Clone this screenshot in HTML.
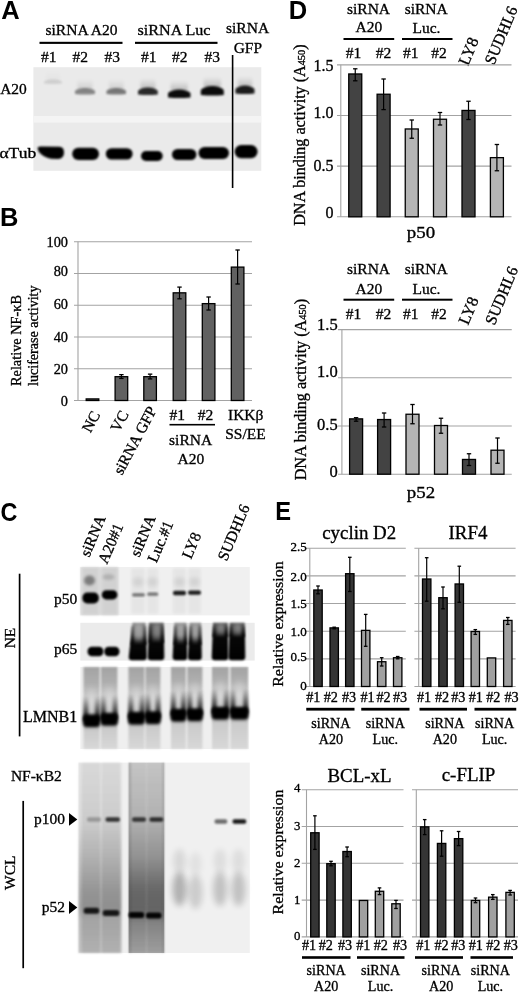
<!DOCTYPE html>
<html><head><meta charset="utf-8"><title>Figure</title>
<style>
html,body{margin:0;padding:0;background:#fff;}
body{width:520px;height:995px;overflow:hidden;}
svg{display:block;filter:blur(0.35px);}
.t{font-family:'Liberation Serif','Times New Roman',serif;fill:#000;stroke:#000;stroke-width:0.32px;}
.pl{font-family:'Liberation Sans',Arial,sans-serif;font-weight:bold;font-size:25.5px;fill:#000;}
</style></head><body>
<svg width="520" height="995" viewBox="0 0 520 995">
<defs>
<filter id="b1_50" x="-50%" y="-50%" width="200%" height="200%"><feGaussianBlur stdDeviation="1.50"/></filter>
<filter id="b1_00" x="-50%" y="-50%" width="200%" height="200%"><feGaussianBlur stdDeviation="1.00"/></filter>
<filter id="b0_90" x="-50%" y="-50%" width="200%" height="200%"><feGaussianBlur stdDeviation="0.90"/></filter>
<filter id="b0_80" x="-50%" y="-50%" width="200%" height="200%"><feGaussianBlur stdDeviation="0.80"/></filter>
<filter id="b1_80" x="-50%" y="-50%" width="200%" height="200%"><feGaussianBlur stdDeviation="1.80"/></filter>
<filter id="b2_00" x="-50%" y="-50%" width="200%" height="200%"><feGaussianBlur stdDeviation="2.00"/></filter>
<filter id="b1_10" x="-50%" y="-50%" width="200%" height="200%"><feGaussianBlur stdDeviation="1.10"/></filter>
<filter id="b2_20" x="-50%" y="-50%" width="200%" height="200%"><feGaussianBlur stdDeviation="2.20"/></filter>
<filter id="b3_00" x="-50%" y="-50%" width="200%" height="200%"><feGaussianBlur stdDeviation="3.00"/></filter>
<filter id="b1_60" x="-50%" y="-50%" width="200%" height="200%"><feGaussianBlur stdDeviation="1.60"/></filter>
<filter id="b1_40" x="-50%" y="-50%" width="200%" height="200%"><feGaussianBlur stdDeviation="1.40"/></filter>
<filter id="b1_20" x="-50%" y="-50%" width="200%" height="200%"><feGaussianBlur stdDeviation="1.20"/></filter>
<filter id="b0_60" x="-50%" y="-50%" width="200%" height="200%"><feGaussianBlur stdDeviation="0.60"/></filter>
<linearGradient id="g0" x1="0" y1="0" x2="0" y2="1"><stop offset="0" stop-color="#000" stop-opacity="0"/><stop offset="1" stop-color="#000" stop-opacity="0.03"/></linearGradient>
<linearGradient id="g1" x1="0" y1="0" x2="0" y2="1"><stop offset="0" stop-color="#000" stop-opacity="0"/><stop offset="1" stop-color="#000" stop-opacity="0.12"/></linearGradient>
<linearGradient id="g2" x1="0" y1="0" x2="0" y2="1"><stop offset="0" stop-color="#000" stop-opacity="0"/><stop offset="1" stop-color="#000" stop-opacity="0.12"/></linearGradient>
<linearGradient id="g3" x1="0" y1="0" x2="0" y2="1"><stop offset="0" stop-color="#000" stop-opacity="0"/><stop offset="1" stop-color="#000" stop-opacity="0.2"/></linearGradient>
<linearGradient id="g4" x1="0" y1="0" x2="0" y2="1"><stop offset="0" stop-color="#000" stop-opacity="0"/><stop offset="1" stop-color="#000" stop-opacity="0.22"/></linearGradient>
<linearGradient id="g5" x1="0" y1="0" x2="0" y2="1"><stop offset="0" stop-color="#000" stop-opacity="0"/><stop offset="1" stop-color="#000" stop-opacity="0.22"/></linearGradient>
<linearGradient id="g6" x1="0" y1="0" x2="0" y2="1"><stop offset="0" stop-color="#000" stop-opacity="0"/><stop offset="1" stop-color="#000" stop-opacity="0.2"/></linearGradient>
<linearGradient id="g7" x1="0" y1="0" x2="0" y2="1"><stop offset="0" stop-color="#000" stop-opacity="0.42"/><stop offset="0.33" stop-color="#000" stop-opacity="0.52"/><stop offset="0.5" stop-color="#000" stop-opacity="0.85"/><stop offset="0.59" stop-color="#000" stop-opacity="0.97"/><stop offset="1" stop-color="#000" stop-opacity="1"/></linearGradient>
<linearGradient id="g8" x1="0" y1="0" x2="0" y2="1"><stop offset="0" stop-color="#000" stop-opacity="0.2"/><stop offset="1" stop-color="#000" stop-opacity="0.8"/></linearGradient>
<linearGradient id="g9" x1="0" y1="0" x2="0" y2="1"><stop offset="0" stop-color="#000" stop-opacity="0.2"/><stop offset="1" stop-color="#000" stop-opacity="0.8"/></linearGradient>
<linearGradient id="g10" x1="0" y1="0" x2="0" y2="1"><stop offset="0" stop-color="#000" stop-opacity="0.6"/><stop offset="0.3" stop-color="#000" stop-opacity="0.7"/><stop offset="0.46" stop-color="#000" stop-opacity="0.85"/><stop offset="0.54" stop-color="#000" stop-opacity="0.97"/><stop offset="1" stop-color="#000" stop-opacity="1"/></linearGradient>
<linearGradient id="g11" x1="0" y1="0" x2="0" y2="1"><stop offset="0" stop-color="#000" stop-opacity="0.2"/><stop offset="1" stop-color="#000" stop-opacity="0.8"/></linearGradient>
<linearGradient id="g12" x1="0" y1="0" x2="0" y2="1"><stop offset="0" stop-color="#000" stop-opacity="0.2"/><stop offset="1" stop-color="#000" stop-opacity="0.8"/></linearGradient>
<linearGradient id="g13" x1="0" y1="0" x2="0" y2="1"><stop offset="0" stop-color="#000" stop-opacity="0.4"/><stop offset="0.33" stop-color="#000" stop-opacity="0.5"/><stop offset="0.5" stop-color="#000" stop-opacity="0.85"/><stop offset="0.59" stop-color="#000" stop-opacity="0.97"/><stop offset="1" stop-color="#000" stop-opacity="1"/></linearGradient>
<linearGradient id="g14" x1="0" y1="0" x2="0" y2="1"><stop offset="0" stop-color="#000" stop-opacity="0.2"/><stop offset="1" stop-color="#000" stop-opacity="0.8"/></linearGradient>
<linearGradient id="g15" x1="0" y1="0" x2="0" y2="1"><stop offset="0" stop-color="#000" stop-opacity="0.2"/><stop offset="1" stop-color="#000" stop-opacity="0.8"/></linearGradient>
<linearGradient id="g16" x1="0" y1="0" x2="0" y2="1"><stop offset="0" stop-color="#000" stop-opacity="0.4"/><stop offset="0.33" stop-color="#000" stop-opacity="0.5"/><stop offset="0.5" stop-color="#000" stop-opacity="0.85"/><stop offset="0.59" stop-color="#000" stop-opacity="0.97"/><stop offset="1" stop-color="#000" stop-opacity="1"/></linearGradient>
<linearGradient id="g17" x1="0" y1="0" x2="0" y2="1"><stop offset="0" stop-color="#000" stop-opacity="0.2"/><stop offset="1" stop-color="#000" stop-opacity="0.8"/></linearGradient>
<linearGradient id="g18" x1="0" y1="0" x2="0" y2="1"><stop offset="0" stop-color="#000" stop-opacity="0.2"/><stop offset="1" stop-color="#000" stop-opacity="0.8"/></linearGradient>
<linearGradient id="g19" x1="0" y1="0" x2="0" y2="1"><stop offset="0" stop-color="#000" stop-opacity="0.62"/><stop offset="0.21" stop-color="#000" stop-opacity="0.72"/><stop offset="0.32" stop-color="#000" stop-opacity="0.85"/><stop offset="0.38" stop-color="#000" stop-opacity="0.97"/><stop offset="1" stop-color="#000" stop-opacity="1"/></linearGradient>
<linearGradient id="g20" x1="0" y1="0" x2="0" y2="1"><stop offset="0" stop-color="#000" stop-opacity="0.2"/><stop offset="1" stop-color="#000" stop-opacity="0.8"/></linearGradient>
<linearGradient id="g21" x1="0" y1="0" x2="0" y2="1"><stop offset="0" stop-color="#000" stop-opacity="0.2"/><stop offset="1" stop-color="#000" stop-opacity="0.8"/></linearGradient>
<linearGradient id="g22" x1="0" y1="0" x2="0" y2="1"><stop offset="0" stop-color="#000" stop-opacity="0.62"/><stop offset="0.21" stop-color="#000" stop-opacity="0.72"/><stop offset="0.32" stop-color="#000" stop-opacity="0.85"/><stop offset="0.38" stop-color="#000" stop-opacity="0.97"/><stop offset="1" stop-color="#000" stop-opacity="1"/></linearGradient>
<linearGradient id="g23" x1="0" y1="0" x2="0" y2="1"><stop offset="0" stop-color="#000" stop-opacity="0.2"/><stop offset="1" stop-color="#000" stop-opacity="0.8"/></linearGradient>
<linearGradient id="g24" x1="0" y1="0" x2="0" y2="1"><stop offset="0" stop-color="#000" stop-opacity="0.2"/><stop offset="1" stop-color="#000" stop-opacity="0.8"/></linearGradient>
<linearGradient id="g25" x1="0" y1="0" x2="0" y2="1"><stop offset="0" stop-color="#000" stop-opacity="0.32"/><stop offset="0.2" stop-color="#000" stop-opacity="0.27"/><stop offset="0.4" stop-color="#000" stop-opacity="0.16"/><stop offset="0.53" stop-color="#000" stop-opacity="0.2"/><stop offset="0.66" stop-color="#000" stop-opacity="0.4"/><stop offset="0.78" stop-color="#000" stop-opacity="0.15"/><stop offset="1" stop-color="#000" stop-opacity="0.1"/></linearGradient>
<linearGradient id="g26" x1="0" y1="0" x2="0" y2="1"><stop offset="0" stop-color="#000" stop-opacity="0.05"/><stop offset="0.5" stop-color="#000" stop-opacity="0.5"/><stop offset="1" stop-color="#000" stop-opacity="1"/></linearGradient>
<linearGradient id="g27" x1="0" y1="0" x2="0" y2="1"><stop offset="0" stop-color="#000" stop-opacity="0.05"/><stop offset="0.5" stop-color="#000" stop-opacity="0.5"/><stop offset="1" stop-color="#000" stop-opacity="1"/></linearGradient>
<linearGradient id="g28" x1="0" y1="0" x2="0" y2="1"><stop offset="0" stop-color="#000" stop-opacity="0.32"/><stop offset="0.19" stop-color="#000" stop-opacity="0.27"/><stop offset="0.38" stop-color="#000" stop-opacity="0.16"/><stop offset="0.51" stop-color="#000" stop-opacity="0.2"/><stop offset="0.64" stop-color="#000" stop-opacity="0.4"/><stop offset="0.76" stop-color="#000" stop-opacity="0.15"/><stop offset="1" stop-color="#000" stop-opacity="0.1"/></linearGradient>
<linearGradient id="g29" x1="0" y1="0" x2="0" y2="1"><stop offset="0" stop-color="#000" stop-opacity="0.05"/><stop offset="0.5" stop-color="#000" stop-opacity="0.5"/><stop offset="1" stop-color="#000" stop-opacity="1"/></linearGradient>
<linearGradient id="g30" x1="0" y1="0" x2="0" y2="1"><stop offset="0" stop-color="#000" stop-opacity="0.05"/><stop offset="0.5" stop-color="#000" stop-opacity="0.5"/><stop offset="1" stop-color="#000" stop-opacity="1"/></linearGradient>
<linearGradient id="g31" x1="0" y1="0" x2="0" y2="1"><stop offset="0" stop-color="#000" stop-opacity="0.32"/><stop offset="0.19" stop-color="#000" stop-opacity="0.27"/><stop offset="0.38" stop-color="#000" stop-opacity="0.16"/><stop offset="0.5" stop-color="#000" stop-opacity="0.2"/><stop offset="0.63" stop-color="#000" stop-opacity="0.4"/><stop offset="0.75" stop-color="#000" stop-opacity="0.15"/><stop offset="1" stop-color="#000" stop-opacity="0.1"/></linearGradient>
<linearGradient id="g32" x1="0" y1="0" x2="0" y2="1"><stop offset="0" stop-color="#000" stop-opacity="0.05"/><stop offset="0.5" stop-color="#000" stop-opacity="0.5"/><stop offset="1" stop-color="#000" stop-opacity="1"/></linearGradient>
<linearGradient id="g33" x1="0" y1="0" x2="0" y2="1"><stop offset="0" stop-color="#000" stop-opacity="0.05"/><stop offset="0.5" stop-color="#000" stop-opacity="0.5"/><stop offset="1" stop-color="#000" stop-opacity="1"/></linearGradient>
<linearGradient id="g34" x1="0" y1="0" x2="0" y2="1"><stop offset="0" stop-color="#000" stop-opacity="0.32"/><stop offset="0.19" stop-color="#000" stop-opacity="0.27"/><stop offset="0.37" stop-color="#000" stop-opacity="0.16"/><stop offset="0.5" stop-color="#000" stop-opacity="0.2"/><stop offset="0.62" stop-color="#000" stop-opacity="0.4"/><stop offset="0.74" stop-color="#000" stop-opacity="0.15"/><stop offset="1" stop-color="#000" stop-opacity="0.1"/></linearGradient>
<linearGradient id="g35" x1="0" y1="0" x2="0" y2="1"><stop offset="0" stop-color="#000" stop-opacity="0.05"/><stop offset="0.5" stop-color="#000" stop-opacity="0.5"/><stop offset="1" stop-color="#000" stop-opacity="1"/></linearGradient>
<linearGradient id="g36" x1="0" y1="0" x2="0" y2="1"><stop offset="0" stop-color="#000" stop-opacity="0.05"/><stop offset="0.5" stop-color="#000" stop-opacity="0.5"/><stop offset="1" stop-color="#000" stop-opacity="1"/></linearGradient>
<linearGradient id="g37" x1="0" y1="0" x2="0" y2="1"><stop offset="0" stop-color="#000" stop-opacity="0.32"/><stop offset="0.18" stop-color="#000" stop-opacity="0.27"/><stop offset="0.35" stop-color="#000" stop-opacity="0.16"/><stop offset="0.47" stop-color="#000" stop-opacity="0.2"/><stop offset="0.59" stop-color="#000" stop-opacity="0.4"/><stop offset="0.71" stop-color="#000" stop-opacity="0.15"/><stop offset="1" stop-color="#000" stop-opacity="0.1"/></linearGradient>
<linearGradient id="g38" x1="0" y1="0" x2="0" y2="1"><stop offset="0" stop-color="#000" stop-opacity="0.05"/><stop offset="0.5" stop-color="#000" stop-opacity="0.5"/><stop offset="1" stop-color="#000" stop-opacity="1"/></linearGradient>
<linearGradient id="g39" x1="0" y1="0" x2="0" y2="1"><stop offset="0" stop-color="#000" stop-opacity="0.05"/><stop offset="0.5" stop-color="#000" stop-opacity="0.5"/><stop offset="1" stop-color="#000" stop-opacity="1"/></linearGradient>
<linearGradient id="g40" x1="0" y1="0" x2="0" y2="1"><stop offset="0" stop-color="#000" stop-opacity="0.32"/><stop offset="0.18" stop-color="#000" stop-opacity="0.27"/><stop offset="0.35" stop-color="#000" stop-opacity="0.16"/><stop offset="0.47" stop-color="#000" stop-opacity="0.2"/><stop offset="0.59" stop-color="#000" stop-opacity="0.4"/><stop offset="0.71" stop-color="#000" stop-opacity="0.15"/><stop offset="1" stop-color="#000" stop-opacity="0.1"/></linearGradient>
<linearGradient id="g41" x1="0" y1="0" x2="0" y2="1"><stop offset="0" stop-color="#000" stop-opacity="0.05"/><stop offset="0.5" stop-color="#000" stop-opacity="0.5"/><stop offset="1" stop-color="#000" stop-opacity="1"/></linearGradient>
<linearGradient id="g42" x1="0" y1="0" x2="0" y2="1"><stop offset="0" stop-color="#000" stop-opacity="0.05"/><stop offset="0.5" stop-color="#000" stop-opacity="0.5"/><stop offset="1" stop-color="#000" stop-opacity="1"/></linearGradient>
<linearGradient id="g43" x1="0" y1="0" x2="0" y2="1"><stop offset="0" stop-color="#000" stop-opacity="0.32"/><stop offset="0.17" stop-color="#000" stop-opacity="0.27"/><stop offset="0.34" stop-color="#000" stop-opacity="0.16"/><stop offset="0.45" stop-color="#000" stop-opacity="0.2"/><stop offset="0.57" stop-color="#000" stop-opacity="0.4"/><stop offset="0.69" stop-color="#000" stop-opacity="0.15"/><stop offset="1" stop-color="#000" stop-opacity="0.1"/></linearGradient>
<linearGradient id="g44" x1="0" y1="0" x2="0" y2="1"><stop offset="0" stop-color="#000" stop-opacity="0.05"/><stop offset="0.5" stop-color="#000" stop-opacity="0.5"/><stop offset="1" stop-color="#000" stop-opacity="1"/></linearGradient>
<linearGradient id="g45" x1="0" y1="0" x2="0" y2="1"><stop offset="0" stop-color="#000" stop-opacity="0.05"/><stop offset="0.5" stop-color="#000" stop-opacity="0.5"/><stop offset="1" stop-color="#000" stop-opacity="1"/></linearGradient>
<linearGradient id="g46" x1="0" y1="0" x2="0" y2="1"><stop offset="0" stop-color="#000" stop-opacity="0.32"/><stop offset="0.17" stop-color="#000" stop-opacity="0.27"/><stop offset="0.34" stop-color="#000" stop-opacity="0.16"/><stop offset="0.45" stop-color="#000" stop-opacity="0.2"/><stop offset="0.57" stop-color="#000" stop-opacity="0.4"/><stop offset="0.69" stop-color="#000" stop-opacity="0.15"/><stop offset="1" stop-color="#000" stop-opacity="0.1"/></linearGradient>
<linearGradient id="g47" x1="0" y1="0" x2="0" y2="1"><stop offset="0" stop-color="#000" stop-opacity="0.05"/><stop offset="0.5" stop-color="#000" stop-opacity="0.5"/><stop offset="1" stop-color="#000" stop-opacity="1"/></linearGradient>
<linearGradient id="g48" x1="0" y1="0" x2="0" y2="1"><stop offset="0" stop-color="#000" stop-opacity="0.05"/><stop offset="0.5" stop-color="#000" stop-opacity="0.5"/><stop offset="1" stop-color="#000" stop-opacity="1"/></linearGradient>
<linearGradient id="g49" x1="0" y1="0" x2="0" y2="1"><stop offset="0" stop-color="#000" stop-opacity="0.06"/><stop offset="0.3" stop-color="#000" stop-opacity="0.09"/><stop offset="0.5" stop-color="#000" stop-opacity="0.2"/><stop offset="0.68" stop-color="#000" stop-opacity="0.3"/><stop offset="0.76" stop-color="#000" stop-opacity="0.33"/><stop offset="0.82" stop-color="#000" stop-opacity="0.24"/><stop offset="1" stop-color="#000" stop-opacity="0.2"/></linearGradient>
<linearGradient id="g50" x1="0" y1="0" x2="0" y2="1"><stop offset="0" stop-color="#000" stop-opacity="0.04"/><stop offset="0.5" stop-color="#000" stop-opacity="0.08"/><stop offset="0.7" stop-color="#000" stop-opacity="0.12"/><stop offset="1" stop-color="#000" stop-opacity="0.08"/></linearGradient>
<linearGradient id="g51" x1="0" y1="0" x2="0" y2="1"><stop offset="0" stop-color="#000" stop-opacity="0.04"/><stop offset="0.5" stop-color="#000" stop-opacity="0.08"/><stop offset="0.7" stop-color="#000" stop-opacity="0.12"/><stop offset="1" stop-color="#000" stop-opacity="0.08"/></linearGradient>
<linearGradient id="g52" x1="0" y1="0" x2="0" y2="1"><stop offset="0" stop-color="#000" stop-opacity="0.14"/><stop offset="0.3" stop-color="#000" stop-opacity="0.2"/><stop offset="0.5" stop-color="#000" stop-opacity="0.33"/><stop offset="0.65" stop-color="#000" stop-opacity="0.47"/><stop offset="0.77" stop-color="#000" stop-opacity="0.5"/><stop offset="0.85" stop-color="#000" stop-opacity="0.36"/><stop offset="1" stop-color="#000" stop-opacity="0.27"/></linearGradient>
<linearGradient id="g53" x1="0" y1="0" x2="0" y2="1"><stop offset="0" stop-color="#000" stop-opacity="0.05"/><stop offset="0.5" stop-color="#000" stop-opacity="0.1"/><stop offset="0.7" stop-color="#000" stop-opacity="0.18"/><stop offset="1" stop-color="#000" stop-opacity="0.1"/></linearGradient>
<linearGradient id="g54" x1="0" y1="0" x2="0" y2="1"><stop offset="0" stop-color="#000" stop-opacity="0.05"/><stop offset="0.5" stop-color="#000" stop-opacity="0.1"/><stop offset="0.7" stop-color="#000" stop-opacity="0.18"/><stop offset="1" stop-color="#000" stop-opacity="0.1"/></linearGradient>
</defs>
<rect width="520" height="995" fill="#fff"/>
<text class="pl" x="1.2" y="18.8">A</text>
<text class="t" x="45.5" y="35" font-size="15.5" text-anchor="start" textLength="72" lengthAdjust="spacingAndGlyphs">siRNA A20</text>
<rect x="39.5" y="41.8" width="83" height="2.1" fill="#000"/>
<text class="t" x="41" y="62.3" font-size="15.5" text-anchor="start">#1</text>
<text class="t" x="72.5" y="62.3" font-size="15.5" text-anchor="start">#2</text>
<text class="t" x="104.5" y="62.3" font-size="15.5" text-anchor="start">#3</text>
<text class="t" x="137.5" y="35" font-size="15.5" text-anchor="start" textLength="73" lengthAdjust="spacingAndGlyphs">siRNA Luc</text>
<rect x="135" y="41.8" width="82.5" height="2.1" fill="#000"/>
<text class="t" x="141" y="62.3" font-size="15.5" text-anchor="start">#1</text>
<text class="t" x="172" y="62.3" font-size="15.5" text-anchor="start">#2</text>
<text class="t" x="204.5" y="62.3" font-size="15.5" text-anchor="start">#3</text>
<text class="t" x="226" y="33.2" font-size="15.5" text-anchor="start" textLength="43.2" lengthAdjust="spacingAndGlyphs">siRNA</text>
<text class="t" x="233.7" y="52.8" font-size="15.5" text-anchor="start" textLength="28.3" lengthAdjust="spacingAndGlyphs">GFP</text>
<rect x="33.4" y="67.2" width="227.9" height="103.6" fill="#eaeaea"/>
<rect x="33.4" y="116" width="227.9" height="6.6" fill="#f4f4f4"/>
<rect x="46.16" y="70.5" width="13.68" height="11" rx="3" fill="url(#g0)" filter="url(#b1_50)"/>
<path d="M44 83.5 L44 81.3 Q47.24 79.5 53 79.5 Q58.76 79.5 62 81.3 L62 83.5 Q53 84.5 44 83.5 Z" fill="#000" opacity="0.1" filter="url(#b1_00)"/>
<rect x="77.4" y="79" width="15.2" height="11" rx="3" fill="url(#g1)" filter="url(#b1_50)"/>
<path d="M75 94 L75 90.7 Q78.6 88 85 88 Q91.4 88 95 90.7 L95 94 Q85 95 75 94 Z" fill="#000" opacity="0.42" filter="url(#b1_00)"/>
<rect x="108.84" y="79" width="14.82" height="11" rx="3" fill="url(#g2)" filter="url(#b1_50)"/>
<path d="M106.5 94 L106.5 90.7 Q110.01 88 116.25 88 Q122.49 88 126 90.7 L126 94 Q116.25 95 106.5 94 Z" fill="#000" opacity="0.48" filter="url(#b1_00)"/>
<rect x="140.38" y="78.5" width="15.05" height="11" rx="3" fill="url(#g3)" filter="url(#b1_50)"/>
<path d="M138 94.5 L138 90.65 Q141.56 87.5 147.9 87.5 Q154.24 87.5 157.8 90.65 L157.8 94.5 Q147.9 95.5 138 94.5 Z" fill="#000" opacity="0.82" filter="url(#b1_00)"/>
<rect x="170.7" y="80.5" width="17.1" height="11" rx="3" fill="url(#g4)" filter="url(#b1_50)"/>
<path d="M168 97.5 L168 93.1 Q172.05 89.5 179.25 89.5 Q186.45 89.5 190.5 93.1 L190.5 97.5 Q179.25 98.5 168 97.5 Z" fill="#000" opacity="0.95" filter="url(#b1_00)"/>
<rect x="203.56" y="77" width="17.48" height="11" rx="3" fill="url(#g5)" filter="url(#b1_50)"/>
<path d="M200.8 95 L200.8 90.05 Q204.94 86 212.3 86 Q219.66 86 223.8 90.05 L223.8 95 Q212.3 96 200.8 95 Z" fill="#000" opacity="0.95" filter="url(#b1_00)"/>
<rect x="237.69" y="76.5" width="14.52" height="11" rx="3" fill="url(#g6)" filter="url(#b1_50)"/>
<path d="M235.4 93.5 L235.4 89.1 Q238.84 85.5 244.95 85.5 Q251.06 85.5 254.5 89.1 L254.5 93.5 Q244.95 94.5 235.4 93.5 Z" fill="#000" opacity="0.88" filter="url(#b1_00)"/>
<path d="M37.6 148.2 Q37.6 146.4 40.5 146.4 L59.5 146.8 Q64 147 64 152.6 Q64 159 58 159 L51 158.8 Q43 157.5 38.6 151.5 Z" fill="#000" opacity="1" filter="url(#b0_90)"/>
<rect x="72.2" y="147.8" width="26.8" height="12.2" rx="6.1" fill="#000" opacity="1" filter="url(#b0_90)"/>
<rect x="105.8" y="148.2" width="26.8" height="11.4" rx="5.7" fill="#000" opacity="1" filter="url(#b0_90)"/>
<rect x="141" y="151" width="21.7" height="10" rx="5" fill="#000" opacity="1" filter="url(#b0_90)"/>
<rect x="172" y="149" width="24.4" height="11" rx="5.5" fill="#000" opacity="1" filter="url(#b0_90)"/>
<rect x="198.5" y="147" width="30.5" height="12" rx="6" fill="#000" opacity="1" filter="url(#b0_90)"/>
<rect x="234.6" y="145" width="23" height="13.2" rx="6.6" fill="#000" opacity="1" filter="url(#b0_90)"/>
<text class="t" x="0.2" y="94" font-size="15.5" text-anchor="start" textLength="26.6" lengthAdjust="spacingAndGlyphs">A20</text>
<text class="t" x="-0.6" y="158.4" font-size="15.5" text-anchor="start" textLength="36.8" lengthAdjust="spacingAndGlyphs">&#945;Tub</text>
<line x1="232.6" y1="55" x2="232.6" y2="188" stroke="#000" stroke-width="1.6"/>
<text class="pl" x="-0.1" y="225.8">B</text>
<line x1="74" y1="400.5" x2="252" y2="400.5" stroke="#a3a3a3" stroke-width="1.1"/>
<line x1="74" y1="368.74" x2="252" y2="368.74" stroke="#a3a3a3" stroke-width="1.1"/>
<line x1="74" y1="336.98" x2="252" y2="336.98" stroke="#a3a3a3" stroke-width="1.1"/>
<line x1="74" y1="305.22" x2="252" y2="305.22" stroke="#a3a3a3" stroke-width="1.1"/>
<line x1="74" y1="273.46" x2="252" y2="273.46" stroke="#a3a3a3" stroke-width="1.1"/>
<line x1="74" y1="241.7" x2="252" y2="241.7" stroke="#a3a3a3" stroke-width="1.1"/>
<line x1="78" y1="241.7" x2="78" y2="400.5" stroke="#a3a3a3" stroke-width="1.1"/>
<rect x="86.2" y="398.91" width="12.6" height="1.59" fill="#616161" stroke="#000" stroke-width="1.3"/>
<rect x="115.1" y="376.68" width="12.6" height="23.82" fill="#616161" stroke="#000" stroke-width="1.3"/>
<line x1="121.4" y1="374.62" x2="121.4" y2="378.43" stroke="#000" stroke-width="1.2"/>
<line x1="119.2" y1="374.62" x2="123.6" y2="374.62" stroke="#000" stroke-width="1.3"/>
<line x1="119.2" y1="378.43" x2="123.6" y2="378.43" stroke="#000" stroke-width="1.3"/>
<rect x="143.8" y="376.68" width="12.6" height="23.82" fill="#616161" stroke="#000" stroke-width="1.3"/>
<line x1="150.1" y1="374.14" x2="150.1" y2="378.9" stroke="#000" stroke-width="1.2"/>
<line x1="147.9" y1="374.14" x2="152.3" y2="374.14" stroke="#000" stroke-width="1.3"/>
<line x1="147.9" y1="378.9" x2="152.3" y2="378.9" stroke="#000" stroke-width="1.3"/>
<rect x="173.2" y="292.83" width="12.6" height="107.67" fill="#616161" stroke="#000" stroke-width="1.3"/>
<line x1="179.5" y1="287.1" x2="179.5" y2="298.8" stroke="#000" stroke-width="1.2"/>
<line x1="177.3" y1="287.1" x2="181.7" y2="287.1" stroke="#000" stroke-width="1.3"/>
<line x1="177.3" y1="298.8" x2="181.7" y2="298.8" stroke="#000" stroke-width="1.3"/>
<rect x="202.3" y="303.63" width="12.6" height="96.87" fill="#616161" stroke="#000" stroke-width="1.3"/>
<line x1="208.6" y1="297" x2="208.6" y2="310" stroke="#000" stroke-width="1.2"/>
<line x1="206.4" y1="297" x2="210.8" y2="297" stroke="#000" stroke-width="1.3"/>
<line x1="206.4" y1="310" x2="210.8" y2="310" stroke="#000" stroke-width="1.3"/>
<rect x="231.3" y="267.11" width="12.6" height="133.39" fill="#616161" stroke="#000" stroke-width="1.3"/>
<line x1="237.6" y1="250" x2="237.6" y2="284" stroke="#000" stroke-width="1.2"/>
<line x1="235.4" y1="250" x2="239.8" y2="250" stroke="#000" stroke-width="1.3"/>
<line x1="235.4" y1="284" x2="239.8" y2="284" stroke="#000" stroke-width="1.3"/>
<text class="t" x="68" y="405.6" font-size="14.3" text-anchor="end">0</text>
<text class="t" x="68" y="374.3" font-size="14.3" text-anchor="end">20</text>
<text class="t" x="68" y="342.3" font-size="14.3" text-anchor="end">40</text>
<text class="t" x="68" y="309" font-size="14.3" text-anchor="end">60</text>
<text class="t" x="68" y="275.6" font-size="14.3" text-anchor="end">80</text>
<text class="t" x="68" y="247" font-size="14.3" text-anchor="end">100</text>
<text class="t" transform="translate(21 386) rotate(-90)" x="0" y="0" font-size="14.3" text-anchor="start">Relative NF-&#954;B</text>
<text class="t" transform="translate(38 386) rotate(-90)" x="0" y="0" font-size="14.1" text-anchor="start">luciferase activity</text>
<text class="t" transform="translate(100.5 414.5) rotate(-62)" x="0" y="0" font-size="15.5" text-anchor="end">NC</text>
<text class="t" transform="translate(129 414) rotate(-62)" x="0" y="0" font-size="15.5" text-anchor="end">VC</text>
<text class="t" transform="translate(157 410) rotate(-62)" x="0" y="0" font-size="15.5" text-anchor="end">siRNA GFP</text>
<text class="t" x="169.5" y="420" font-size="15.5" text-anchor="start">#1</text>
<text class="t" x="197.7" y="420" font-size="15.5" text-anchor="start">#2</text>
<rect x="169.5" y="423.9" width="45.5" height="1.6" fill="#000"/>
<text class="t" x="190.6" y="444.7" font-size="15.5" text-anchor="middle">siRNA</text>
<text class="t" x="190.8" y="463.8" font-size="15.5" text-anchor="middle">A20</text>
<text class="t" x="245.7" y="420" font-size="15.5" text-anchor="middle">IKK&#946;</text>
<text class="t" x="245.5" y="439.4" font-size="15.5" text-anchor="middle">SS/EE</text>
<text class="pl" x="0.5" y="520.5" textLength="16.9" lengthAdjust="spacingAndGlyphs">C</text>
<text class="t" transform="translate(106 518) rotate(-67)" x="0" y="0" font-size="15.5" text-anchor="end">siRNA</text>
<text class="t" transform="translate(123.5 526) rotate(-67)" x="0" y="0" font-size="15.5" text-anchor="end">A20#1</text>
<text class="t" transform="translate(156 518) rotate(-67)" x="0" y="0" font-size="15.5" text-anchor="end">siRNA</text>
<text class="t" transform="translate(173.5 523.5) rotate(-67)" x="0" y="0" font-size="15.5" text-anchor="end">Luc.#1</text>
<text class="t" transform="translate(201.5 535) rotate(-67)" x="0" y="0" font-size="15.5" text-anchor="end">LY8</text>
<text class="t" transform="translate(250 507) rotate(-67)" x="0" y="0" font-size="15.5" text-anchor="end">SUDHL6</text>
<line x1="19.6" y1="573.7" x2="19.6" y2="736.4" stroke="#000" stroke-width="1.7"/>
<text class="t" transform="translate(14.8 638) rotate(-90)" x="0" y="0" font-size="15.5" text-anchor="middle">NE</text>
<text class="t" x="77.3" y="603.8" font-size="15.5" text-anchor="end">p50</text>
<text class="t" x="77.3" y="654" font-size="15.5" text-anchor="end">p65</text>
<text class="t" x="77.2" y="722.3" font-size="16" text-anchor="end">LMNB1</text>
<text class="t" x="10.9" y="781" font-size="15.5" text-anchor="start">NF-&#954;B2</text>
<line x1="23.2" y1="800.9" x2="23.2" y2="968.2" stroke="#000" stroke-width="1.7"/>
<text class="t" transform="translate(15 872.7) rotate(-90)" x="0" y="0" font-size="15.5" text-anchor="middle">WCL</text>
<text class="t" x="65.1" y="823.5" font-size="15.5" text-anchor="end">p100</text>
<text class="t" x="65.1" y="911.7" font-size="15.5" text-anchor="end">p52</text>
<path d="M69 812.9 L77.3 819.4 L69 825.8 Z" fill="#000"/>
<path d="M69 901 L77.3 907.5 L69 914 Z" fill="#000"/>
<rect x="80.2" y="567" width="169.6" height="48.4" fill="#f0f0f0"/>
<rect x="80.2" y="567" width="38.3" height="48.4" rx="0" fill="#000" opacity="0.07" filter="url(#b0_80)"/>
<rect x="82" y="567" width="17" height="48.4" rx="1" fill="#000" opacity="0.05" filter="url(#b1_50)"/>
<rect x="101.5" y="567" width="16.5" height="48.4" rx="1" fill="#000" opacity="0.05" filter="url(#b1_50)"/>
<rect x="131" y="568" width="14" height="46" rx="2" fill="#000" opacity="0.04" filter="url(#b1_50)"/>
<rect x="147" y="568" width="11.5" height="46" rx="2" fill="#000" opacity="0.04" filter="url(#b1_50)"/>
<rect x="172.5" y="568" width="13.5" height="46" rx="2" fill="#000" opacity="0.04" filter="url(#b1_50)"/>
<rect x="188" y="568" width="13" height="46" rx="2" fill="#000" opacity="0.04" filter="url(#b1_50)"/>
<ellipse cx="89.5" cy="580.5" rx="5.5" ry="5" fill="#000" opacity="0.4" filter="url(#b1_80)"/>
<ellipse cx="108.5" cy="577" rx="6" ry="3" fill="#000" opacity="0.15" filter="url(#b1_80)"/>
<ellipse cx="138" cy="582" rx="5.5" ry="4.5" fill="#000" opacity="0.08" filter="url(#b2_00)"/>
<ellipse cx="152.5" cy="582" rx="5.5" ry="4.5" fill="#000" opacity="0.08" filter="url(#b2_00)"/>
<ellipse cx="179.5" cy="582" rx="5.5" ry="4.5" fill="#000" opacity="0.08" filter="url(#b2_00)"/>
<ellipse cx="194.5" cy="582" rx="5.5" ry="4.5" fill="#000" opacity="0.08" filter="url(#b2_00)"/>
<rect x="82.4" y="592.6" width="16.4" height="10.8" rx="5" fill="#000" opacity="1" filter="url(#b1_00)"/>
<rect x="101.8" y="590.2" width="15.6" height="9.2" rx="4.5" fill="#000" opacity="1" filter="url(#b1_00)"/>
<rect x="132" y="593.2" width="13" height="3.2" rx="1.6" fill="#000" opacity="0.5" filter="url(#b0_90)"/>
<rect x="147.2" y="592.6" width="11" height="3.2" rx="1.6" fill="#000" opacity="0.5" filter="url(#b0_90)"/>
<rect x="173" y="590.8" width="13" height="4.4" rx="2" fill="#000" opacity="0.88" filter="url(#b0_80)"/>
<rect x="188" y="590.4" width="13" height="4.4" rx="2" fill="#000" opacity="0.88" filter="url(#b0_80)"/>
<rect x="80.3" y="622.8" width="174.4" height="37.8" fill="#ebebeb"/>
<rect x="87.5" y="646.8" width="16" height="9.5" rx="4.5" fill="#000" opacity="1" filter="url(#b1_10)"/>
<rect x="104.2" y="646.8" width="15.3" height="9.5" rx="4.5" fill="#000" opacity="1" filter="url(#b1_10)"/>
<path d="M132.5 622.8 L145.45 622.8 L146.5 641 L146.8 657 Q146.8 660.3 143.5 660.3 L132 660.3 Q128.7 660.3 128.7 657 Z" fill="url(#g7)" filter="url(#b1_10)"/>
<ellipse cx="138.62" cy="632.12" rx="4.2" ry="9.32" fill="#fff" opacity="0.3" filter="url(#b2_20)"/>
<rect x="130.75" y="626" width="3.2" height="19" rx="0" fill="url(#g8)" filter="url(#b1_00)"/>
<rect x="143.3" y="626" width="3.2" height="19" rx="0" fill="url(#g9)" filter="url(#b1_00)"/>
<path d="M149 622.8 L163.7 622.8 L164 639 L164.3 657 Q164.3 660.3 161 660.3 L151 660.3 Q147.7 660.3 147.7 657 Z" fill="url(#g10)" filter="url(#b1_10)"/>
<ellipse cx="156.8" cy="631.28" rx="3.84" ry="8.48" fill="#fff" opacity="0.3" filter="url(#b2_20)"/>
<rect x="148.5" y="626" width="3.2" height="17" rx="0" fill="url(#g11)" filter="url(#b1_00)"/>
<rect x="160.8" y="626" width="3.2" height="17" rx="0" fill="url(#g12)" filter="url(#b1_00)"/>
<path d="M174.4 622.8 L186.55 622.8 L187 641 L187.3 657 Q187.3 660.3 184 660.3 L175.9 660.3 Q172.6 660.3 172.6 657 Z" fill="url(#g13)" filter="url(#b1_10)"/>
<ellipse cx="180.66" cy="632.12" rx="3.38" ry="9.32" fill="#fff" opacity="0.3" filter="url(#b2_20)"/>
<rect x="173.65" y="626" width="3.2" height="19" rx="0" fill="url(#g14)" filter="url(#b1_00)"/>
<rect x="183.8" y="626" width="3.2" height="19" rx="0" fill="url(#g15)" filter="url(#b1_00)"/>
<path d="M189.7 622.8 L201.05 622.8 L201.5 641 L201.8 657 Q201.8 660.3 198.5 660.3 L191.2 660.3 Q187.9 660.3 187.9 657 Z" fill="url(#g16)" filter="url(#b1_10)"/>
<ellipse cx="195.51" cy="632.12" rx="3.19" ry="9.32" fill="#fff" opacity="0.3" filter="url(#b2_20)"/>
<rect x="188.95" y="626" width="3.2" height="19" rx="0" fill="url(#g17)" filter="url(#b1_00)"/>
<rect x="198.3" y="626" width="3.2" height="19" rx="0" fill="url(#g18)" filter="url(#b1_00)"/>
<path d="M213 622.8 L227.7 622.8 L228 633 L228.3 657 Q228.3 660.3 225 660.3 L215 660.3 Q211.7 660.3 211.7 657 Z" fill="url(#g19)" filter="url(#b1_10)"/>
<ellipse cx="220.8" cy="628.76" rx="3.84" ry="5.96" fill="#fff" opacity="0.3" filter="url(#b2_20)"/>
<rect x="212.5" y="626" width="3.2" height="11" rx="0" fill="url(#g20)" filter="url(#b1_00)"/>
<rect x="224.8" y="626" width="3.2" height="11" rx="0" fill="url(#g21)" filter="url(#b1_00)"/>
<path d="M229.7 622.8 L244.7 622.8 L245 633 L245.3 657 Q245.3 660.3 242 660.3 L231.7 660.3 Q228.4 660.3 228.4 657 Z" fill="url(#g22)" filter="url(#b1_10)"/>
<ellipse cx="237.66" cy="628.76" rx="3.91" ry="5.96" fill="#fff" opacity="0.3" filter="url(#b2_20)"/>
<rect x="229.2" y="626" width="3.2" height="11" rx="0" fill="url(#g23)" filter="url(#b1_00)"/>
<rect x="241.8" y="626" width="3.2" height="11" rx="0" fill="url(#g24)" filter="url(#b1_00)"/>
<rect x="80.3" y="667" width="168.4" height="82" fill="#efefef"/>
<rect x="83.5" y="667" width="16.2" height="82" rx="0" fill="url(#g25)" filter="url(#b0_90)"/>
<ellipse cx="91.6" cy="701" rx="4.86" ry="13" fill="#fff" opacity="0.3" filter="url(#b3_00)"/>
<rect x="83.3" y="697" width="5" height="24" rx="0" fill="url(#g26)" filter="url(#b1_60)"/>
<rect x="94.9" y="697" width="5" height="24" rx="0" fill="url(#g27)" filter="url(#b1_60)"/>
<rect x="83.1" y="714.5" width="17" height="12.5" rx="4" fill="#000" opacity="1" filter="url(#b1_40)"/>
<rect x="101" y="667" width="16.4" height="82" rx="0" fill="url(#g28)" filter="url(#b0_90)"/>
<ellipse cx="109.2" cy="699.6" rx="4.92" ry="13" fill="#fff" opacity="0.3" filter="url(#b3_00)"/>
<rect x="100.8" y="695.6" width="5" height="24" rx="0" fill="url(#g29)" filter="url(#b1_60)"/>
<rect x="112.6" y="695.6" width="5" height="24" rx="0" fill="url(#g30)" filter="url(#b1_60)"/>
<rect x="100.6" y="713.1" width="17.2" height="12.5" rx="4" fill="#000" opacity="1" filter="url(#b1_40)"/>
<rect x="128.4" y="667" width="16" height="82" rx="0" fill="url(#g31)" filter="url(#b0_90)"/>
<ellipse cx="136.4" cy="698.5" rx="4.8" ry="13" fill="#fff" opacity="0.3" filter="url(#b3_00)"/>
<rect x="128.2" y="694.5" width="5" height="24" rx="0" fill="url(#g32)" filter="url(#b1_60)"/>
<rect x="139.6" y="694.5" width="5" height="24" rx="0" fill="url(#g33)" filter="url(#b1_60)"/>
<rect x="128" y="712" width="16.8" height="12.5" rx="4" fill="#000" opacity="1" filter="url(#b1_40)"/>
<rect x="145.5" y="667" width="14.9" height="82" rx="0" fill="url(#g34)" filter="url(#b0_90)"/>
<ellipse cx="152.95" cy="698" rx="4.47" ry="13" fill="#fff" opacity="0.3" filter="url(#b3_00)"/>
<rect x="145.3" y="694" width="5" height="24" rx="0" fill="url(#g35)" filter="url(#b1_60)"/>
<rect x="155.6" y="694" width="5" height="24" rx="0" fill="url(#g36)" filter="url(#b1_60)"/>
<rect x="145.1" y="711.5" width="15.7" height="12.5" rx="4" fill="#000" opacity="1" filter="url(#b1_40)"/>
<rect x="171" y="667" width="14.8" height="82" rx="0" fill="url(#g37)" filter="url(#b0_90)"/>
<ellipse cx="178.4" cy="695.5" rx="4.44" ry="13" fill="#fff" opacity="0.3" filter="url(#b3_00)"/>
<rect x="170.8" y="691.5" width="5" height="24" rx="0" fill="url(#g38)" filter="url(#b1_60)"/>
<rect x="181" y="691.5" width="5" height="24" rx="0" fill="url(#g39)" filter="url(#b1_60)"/>
<rect x="170.6" y="709" width="15.6" height="12.5" rx="4" fill="#000" opacity="1" filter="url(#b1_40)"/>
<rect x="187.3" y="667" width="15.1" height="82" rx="0" fill="url(#g40)" filter="url(#b0_90)"/>
<ellipse cx="194.85" cy="695" rx="4.53" ry="13" fill="#fff" opacity="0.3" filter="url(#b3_00)"/>
<rect x="187.1" y="691" width="5" height="24" rx="0" fill="url(#g41)" filter="url(#b1_60)"/>
<rect x="197.6" y="691" width="5" height="24" rx="0" fill="url(#g42)" filter="url(#b1_60)"/>
<rect x="186.9" y="708.5" width="15.9" height="12.5" rx="4" fill="#000" opacity="1" filter="url(#b1_40)"/>
<rect x="212" y="667" width="16.7" height="82" rx="0" fill="url(#g43)" filter="url(#b0_90)"/>
<ellipse cx="220.35" cy="693.5" rx="5.01" ry="13" fill="#fff" opacity="0.3" filter="url(#b3_00)"/>
<rect x="211.8" y="689.5" width="5" height="24" rx="0" fill="url(#g44)" filter="url(#b1_60)"/>
<rect x="223.9" y="689.5" width="5" height="24" rx="0" fill="url(#g45)" filter="url(#b1_60)"/>
<rect x="211.6" y="707" width="17.5" height="12.5" rx="4" fill="#000" opacity="1" filter="url(#b1_40)"/>
<rect x="230.5" y="667" width="17.5" height="82" rx="0" fill="url(#g46)" filter="url(#b0_90)"/>
<ellipse cx="239.25" cy="693.5" rx="5.25" ry="13" fill="#fff" opacity="0.3" filter="url(#b3_00)"/>
<rect x="230.3" y="689.5" width="5" height="24" rx="0" fill="url(#g47)" filter="url(#b1_60)"/>
<rect x="243.2" y="689.5" width="5" height="24" rx="0" fill="url(#g48)" filter="url(#b1_60)"/>
<rect x="230.1" y="707" width="18.3" height="12.5" rx="4" fill="#000" opacity="1" filter="url(#b1_40)"/>
<rect x="78.5" y="762.6" width="171.3" height="190.4" fill="#f0f0f0"/>
<rect x="78.5" y="762.6" width="43.2" height="190.4" rx="0" fill="url(#g49)" filter="url(#b0_80)"/>
<rect x="82" y="762.6" width="18" height="190.4" rx="0" fill="url(#g50)" filter="url(#b1_20)"/>
<rect x="102" y="762.6" width="18" height="190.4" rx="0" fill="url(#g51)" filter="url(#b1_20)"/>
<rect x="128.6" y="762.6" width="35.7" height="190.4" rx="0" fill="url(#g52)" filter="url(#b0_60)"/>
<rect x="129.5" y="762.6" width="16.5" height="190.4" rx="0" fill="url(#g53)" filter="url(#b1_20)"/>
<rect x="147" y="762.6" width="16" height="190.4" rx="0" fill="url(#g54)" filter="url(#b1_20)"/>
<rect x="128.6" y="762.6" width="2.4" height="190.4" rx="0" fill="#000" opacity="0.15" filter="url(#b1_00)"/>
<rect x="162.5" y="762.6" width="2.1" height="190.4" rx="0" fill="#000" opacity="0.15" filter="url(#b1_00)"/>
<rect x="87" y="817.3" width="14" height="4.4" rx="2" fill="#000" opacity="0.25" filter="url(#b0_90)"/>
<rect x="105.5" y="817.3" width="14.5" height="4.4" rx="2" fill="#000" opacity="0.75" filter="url(#b0_90)"/>
<rect x="132" y="817.3" width="14" height="4.4" rx="2" fill="#000" opacity="0.7" filter="url(#b0_90)"/>
<rect x="149.4" y="817.3" width="13.9" height="4.4" rx="2" fill="#000" opacity="0.75" filter="url(#b0_90)"/>
<rect x="214.5" y="819.3" width="12.8" height="4.4" rx="2" fill="#000" opacity="0.55" filter="url(#b0_90)"/>
<rect x="232.5" y="819.3" width="13.8" height="4.4" rx="2" fill="#000" opacity="0.9" filter="url(#b0_90)"/>
<rect x="83.7" y="907.8" width="15.5" height="6" rx="2.5" fill="#000" opacity="0.85" filter="url(#b1_00)"/>
<rect x="102.7" y="910" width="16.6" height="6" rx="2.5" fill="#000" opacity="0.85" filter="url(#b1_00)"/>
<rect x="128.6" y="912" width="15.6" height="6" rx="2.5" fill="#000" opacity="0.97" filter="url(#b1_00)"/>
<rect x="146" y="912.5" width="15.5" height="6" rx="2.5" fill="#000" opacity="0.97" filter="url(#b1_00)"/>
<ellipse cx="179.5" cy="889" rx="7" ry="17" fill="#000" opacity="0.26" filter="url(#b3_00)"/>
<ellipse cx="179.5" cy="861" rx="6" ry="12" fill="#000" opacity="0.1" filter="url(#b3_00)"/>
<ellipse cx="195.5" cy="892" rx="7" ry="17" fill="#000" opacity="0.15" filter="url(#b3_00)"/>
<ellipse cx="195.5" cy="864" rx="6" ry="12" fill="#000" opacity="0.06" filter="url(#b3_00)"/>
<ellipse cx="220" cy="889" rx="7" ry="17" fill="#000" opacity="0.19" filter="url(#b3_00)"/>
<ellipse cx="220" cy="861" rx="6" ry="12" fill="#000" opacity="0.08" filter="url(#b3_00)"/>
<ellipse cx="238.5" cy="889" rx="7" ry="17" fill="#000" opacity="0.19" filter="url(#b3_00)"/>
<ellipse cx="238.5" cy="861" rx="6" ry="12" fill="#000" opacity="0.08" filter="url(#b3_00)"/>
<text class="pl" x="288.8" y="18.5">D</text>
<text class="t" x="368.5" y="13.8" font-size="15.5" text-anchor="middle">siRNA</text>
<text class="t" x="368.8" y="32.3" font-size="15.5" text-anchor="middle">A20</text>
<rect x="343.5" y="38" width="50.7" height="2" fill="#000"/>
<text class="t" x="345.8" y="58.2" font-size="15.5" text-anchor="start">#1</text>
<text class="t" x="375.8" y="58.2" font-size="15.5" text-anchor="start">#2</text>
<text class="t" x="426.2" y="13.8" font-size="15.5" text-anchor="middle">siRNA</text>
<text class="t" x="426.5" y="33" font-size="15.5" text-anchor="middle">Luc.</text>
<rect x="402" y="38" width="50.5" height="2" fill="#000"/>
<text class="t" x="403" y="58.2" font-size="15.5" text-anchor="start">#1</text>
<text class="t" x="431.3" y="58.2" font-size="15.5" text-anchor="start">#2</text>
<text class="t" transform="translate(479 40.3) rotate(-67)" x="0" y="0" font-size="16.4" text-anchor="end">LY8</text>
<text class="t" transform="translate(518 9) rotate(-67)" x="0" y="0" font-size="16.1" text-anchor="end">SUDHL6</text>
<line x1="337" y1="216.8" x2="511.5" y2="216.8" stroke="#a3a3a3" stroke-width="1.1"/>
<line x1="337" y1="166.15" x2="511.5" y2="166.15" stroke="#a3a3a3" stroke-width="1.1"/>
<line x1="337" y1="115.5" x2="511.5" y2="115.5" stroke="#a3a3a3" stroke-width="1.1"/>
<line x1="337" y1="64.85" x2="511.5" y2="64.85" stroke="#a3a3a3" stroke-width="1.1"/>
<line x1="340.8" y1="64.85" x2="340.8" y2="216.8" stroke="#a3a3a3" stroke-width="1.1"/>
<rect x="348.75" y="73.97" width="13" height="142.83" fill="#434343" stroke="#000" stroke-width="1.3"/>
<line x1="355.25" y1="68.8" x2="355.25" y2="80.8" stroke="#000" stroke-width="1.2"/>
<line x1="353.05" y1="68.8" x2="357.45" y2="68.8" stroke="#000" stroke-width="1.3"/>
<line x1="353.05" y1="80.8" x2="357.45" y2="80.8" stroke="#000" stroke-width="1.3"/>
<rect x="377.1" y="94.23" width="13" height="122.57" fill="#434343" stroke="#000" stroke-width="1.3"/>
<line x1="383.6" y1="79" x2="383.6" y2="109.6" stroke="#000" stroke-width="1.2"/>
<line x1="381.4" y1="79" x2="385.8" y2="79" stroke="#000" stroke-width="1.3"/>
<line x1="381.4" y1="109.6" x2="385.8" y2="109.6" stroke="#000" stroke-width="1.3"/>
<rect x="405.25" y="128.97" width="13" height="87.83" fill="#b5b5b5" stroke="#000" stroke-width="1.3"/>
<line x1="411.75" y1="120" x2="411.75" y2="138.25" stroke="#000" stroke-width="1.2"/>
<line x1="409.55" y1="120" x2="413.95" y2="120" stroke="#000" stroke-width="1.3"/>
<line x1="409.55" y1="138.25" x2="413.95" y2="138.25" stroke="#000" stroke-width="1.3"/>
<rect x="433.5" y="119.25" width="13" height="97.55" fill="#b5b5b5" stroke="#000" stroke-width="1.3"/>
<line x1="440" y1="112.5" x2="440" y2="125" stroke="#000" stroke-width="1.2"/>
<line x1="437.8" y1="112.5" x2="442.2" y2="112.5" stroke="#000" stroke-width="1.3"/>
<line x1="437.8" y1="125" x2="442.2" y2="125" stroke="#000" stroke-width="1.3"/>
<rect x="462" y="110.44" width="13" height="106.36" fill="#434343" stroke="#000" stroke-width="1.3"/>
<line x1="468.5" y1="101.25" x2="468.5" y2="119.5" stroke="#000" stroke-width="1.2"/>
<line x1="466.3" y1="101.25" x2="470.7" y2="101.25" stroke="#000" stroke-width="1.3"/>
<line x1="466.3" y1="119.5" x2="470.7" y2="119.5" stroke="#000" stroke-width="1.3"/>
<rect x="490.4" y="157.64" width="13" height="59.16" fill="#b5b5b5" stroke="#000" stroke-width="1.3"/>
<line x1="496.9" y1="144.5" x2="496.9" y2="170.75" stroke="#000" stroke-width="1.2"/>
<line x1="494.7" y1="144.5" x2="499.1" y2="144.5" stroke="#000" stroke-width="1.3"/>
<line x1="494.7" y1="170.75" x2="499.1" y2="170.75" stroke="#000" stroke-width="1.3"/>
<text class="t" x="333.6" y="218" font-size="16" text-anchor="end">0</text>
<text class="t" x="333.6" y="170.5" font-size="16" text-anchor="end">0.5</text>
<text class="t" x="333.6" y="117.5" font-size="16" text-anchor="end">1.0</text>
<text class="t" x="333.6" y="70.5" font-size="16" text-anchor="end">1.5</text>
<text class="t" transform="translate(304.5 225.8) rotate(-90)" x="0" y="0" font-size="16.1" text-anchor="start">DNA binding activity (A<tspan font-size="10.3">450</tspan>)</text>
<text class="t" x="421" y="237.6" font-size="16.6" text-anchor="middle" textLength="28.3" lengthAdjust="spacingAndGlyphs">p50</text>
<text class="t" x="368.5" y="274.3" font-size="15.5" text-anchor="middle">siRNA</text>
<text class="t" x="368.8" y="294.2" font-size="15.5" text-anchor="middle">A20</text>
<rect x="343.5" y="298.7" width="50.7" height="2" fill="#000"/>
<text class="t" x="345.8" y="318.8" font-size="15.5" text-anchor="start">#1</text>
<text class="t" x="375.8" y="318.8" font-size="15.5" text-anchor="start">#2</text>
<text class="t" x="426.2" y="274.3" font-size="15.5" text-anchor="middle">siRNA</text>
<text class="t" x="426.5" y="294.2" font-size="15.5" text-anchor="middle">Luc.</text>
<rect x="402" y="298.7" width="50.5" height="2" fill="#000"/>
<text class="t" x="403" y="318.8" font-size="15.5" text-anchor="start">#1</text>
<text class="t" x="431.3" y="318.8" font-size="15.5" text-anchor="start">#2</text>
<text class="t" transform="translate(479 299.7) rotate(-67)" x="0" y="0" font-size="16.4" text-anchor="end">LY8</text>
<text class="t" transform="translate(518.5 269.3) rotate(-67)" x="0" y="0" font-size="16.1" text-anchor="end">SUDHL6</text>
<line x1="338" y1="474.2" x2="511.75" y2="474.2" stroke="#a3a3a3" stroke-width="1.1"/>
<line x1="338" y1="426" x2="511.75" y2="426" stroke="#a3a3a3" stroke-width="1.1"/>
<line x1="338" y1="377.8" x2="511.75" y2="377.8" stroke="#a3a3a3" stroke-width="1.1"/>
<line x1="338" y1="329.6" x2="511.75" y2="329.6" stroke="#a3a3a3" stroke-width="1.1"/>
<line x1="341.9" y1="329.6" x2="341.9" y2="474.2" stroke="#a3a3a3" stroke-width="1.1"/>
<rect x="349.6" y="418.87" width="13" height="55.33" fill="#434343" stroke="#000" stroke-width="1.3"/>
<line x1="356.1" y1="417.7" x2="356.1" y2="421.2" stroke="#000" stroke-width="1.2"/>
<line x1="353.9" y1="417.7" x2="358.3" y2="417.7" stroke="#000" stroke-width="1.3"/>
<line x1="353.9" y1="421.2" x2="358.3" y2="421.2" stroke="#000" stroke-width="1.3"/>
<rect x="377.6" y="419.54" width="13" height="54.66" fill="#434343" stroke="#000" stroke-width="1.3"/>
<line x1="384.1" y1="413" x2="384.1" y2="427" stroke="#000" stroke-width="1.2"/>
<line x1="381.9" y1="413" x2="386.3" y2="413" stroke="#000" stroke-width="1.3"/>
<line x1="381.9" y1="427" x2="386.3" y2="427" stroke="#000" stroke-width="1.3"/>
<rect x="406" y="414.24" width="13" height="59.96" fill="#b5b5b5" stroke="#000" stroke-width="1.3"/>
<line x1="412.5" y1="404.5" x2="412.5" y2="423.75" stroke="#000" stroke-width="1.2"/>
<line x1="410.3" y1="404.5" x2="414.7" y2="404.5" stroke="#000" stroke-width="1.3"/>
<line x1="410.3" y1="423.75" x2="414.7" y2="423.75" stroke="#000" stroke-width="1.3"/>
<rect x="434.5" y="425.52" width="13" height="48.68" fill="#b5b5b5" stroke="#000" stroke-width="1.3"/>
<line x1="441" y1="418.25" x2="441" y2="433.25" stroke="#000" stroke-width="1.2"/>
<line x1="438.8" y1="418.25" x2="443.2" y2="418.25" stroke="#000" stroke-width="1.3"/>
<line x1="438.8" y1="433.25" x2="443.2" y2="433.25" stroke="#000" stroke-width="1.3"/>
<rect x="462.5" y="459.45" width="13" height="14.75" fill="#434343" stroke="#000" stroke-width="1.3"/>
<line x1="469" y1="453.75" x2="469" y2="465.5" stroke="#000" stroke-width="1.2"/>
<line x1="466.8" y1="453.75" x2="471.2" y2="453.75" stroke="#000" stroke-width="1.3"/>
<line x1="466.8" y1="465.5" x2="471.2" y2="465.5" stroke="#000" stroke-width="1.3"/>
<rect x="491" y="450.2" width="13" height="24" fill="#b5b5b5" stroke="#000" stroke-width="1.3"/>
<line x1="497.5" y1="438" x2="497.5" y2="463.25" stroke="#000" stroke-width="1.2"/>
<line x1="495.3" y1="438" x2="499.7" y2="438" stroke="#000" stroke-width="1.3"/>
<line x1="495.3" y1="463.25" x2="499.7" y2="463.25" stroke="#000" stroke-width="1.3"/>
<text class="t" x="337.7" y="477" font-size="16.5" text-anchor="end">0</text>
<text class="t" x="337.7" y="429.6" font-size="16.5" text-anchor="end">0.5</text>
<text class="t" x="337.7" y="376.6" font-size="16.5" text-anchor="end">1.0</text>
<text class="t" x="337.7" y="329.6" font-size="16.5" text-anchor="end">1.5</text>
<text class="t" transform="translate(305.5 480.3) rotate(-90)" x="0" y="0" font-size="16.1" text-anchor="start">DNA binding activity (A<tspan font-size="10.3">450</tspan>)</text>
<text class="t" x="421" y="497.6" font-size="16.6" text-anchor="middle" textLength="28.3" lengthAdjust="spacingAndGlyphs">p52</text>
<text class="pl" x="275.2" y="520" textLength="15.8" lengthAdjust="spacingAndGlyphs">E</text>
<text class="t" x="359.2" y="539.2" font-size="18.9" text-anchor="middle">cyclin D2</text>
<text class="t" x="468" y="539.2" font-size="18.9" text-anchor="middle">IRF4</text>
<line x1="306" y1="686.5" x2="405.8" y2="686.5" stroke="#a3a3a3" stroke-width="1.1"/>
<line x1="306" y1="658.85" x2="405.8" y2="658.85" stroke="#a3a3a3" stroke-width="1.1"/>
<line x1="306" y1="631.2" x2="405.8" y2="631.2" stroke="#a3a3a3" stroke-width="1.1"/>
<line x1="306" y1="603.55" x2="405.8" y2="603.55" stroke="#a3a3a3" stroke-width="1.1"/>
<line x1="306" y1="575.9" x2="405.8" y2="575.9" stroke="#a3a3a3" stroke-width="1.1"/>
<line x1="306" y1="548.25" x2="405.8" y2="548.25" stroke="#a3a3a3" stroke-width="1.1"/>
<line x1="309.8" y1="548.25" x2="309.8" y2="686.5" stroke="#a3a3a3" stroke-width="1.1"/>
<rect x="313.8" y="590" width="8.4" height="96.5" fill="#353535" stroke="#000" stroke-width="1.3"/>
<line x1="318" y1="586" x2="318" y2="593.8" stroke="#000" stroke-width="1.2"/>
<line x1="316.2" y1="586" x2="319.8" y2="586" stroke="#000" stroke-width="1.3"/>
<line x1="316.2" y1="593.8" x2="319.8" y2="593.8" stroke="#000" stroke-width="1.3"/>
<rect x="330" y="627.88" width="8.4" height="58.62" fill="#353535" stroke="#000" stroke-width="1.3"/>
<line x1="334.2" y1="627.2" x2="334.2" y2="628.8" stroke="#000" stroke-width="1.2"/>
<line x1="332.4" y1="627.2" x2="336" y2="627.2" stroke="#000" stroke-width="1.3"/>
<line x1="332.4" y1="628.8" x2="336" y2="628.8" stroke="#000" stroke-width="1.3"/>
<rect x="345.6" y="573.69" width="8.4" height="112.81" fill="#353535" stroke="#000" stroke-width="1.3"/>
<line x1="349.8" y1="557.3" x2="349.8" y2="591.5" stroke="#000" stroke-width="1.2"/>
<line x1="348" y1="557.3" x2="351.6" y2="557.3" stroke="#000" stroke-width="1.3"/>
<line x1="348" y1="591.5" x2="351.6" y2="591.5" stroke="#000" stroke-width="1.3"/>
<rect x="361.5" y="630.37" width="8.4" height="56.13" fill="#a0a0a0" stroke="#000" stroke-width="1.3"/>
<line x1="365.7" y1="614.4" x2="365.7" y2="646.3" stroke="#000" stroke-width="1.2"/>
<line x1="363.9" y1="614.4" x2="367.5" y2="614.4" stroke="#000" stroke-width="1.3"/>
<line x1="363.9" y1="646.3" x2="367.5" y2="646.3" stroke="#000" stroke-width="1.3"/>
<rect x="377.5" y="661.73" width="8.4" height="24.77" fill="#a0a0a0" stroke="#000" stroke-width="1.3"/>
<line x1="381.7" y1="657.7" x2="381.7" y2="666" stroke="#000" stroke-width="1.2"/>
<line x1="379.9" y1="657.7" x2="383.5" y2="657.7" stroke="#000" stroke-width="1.3"/>
<line x1="379.9" y1="666" x2="383.5" y2="666" stroke="#000" stroke-width="1.3"/>
<rect x="393.5" y="657.74" width="8.4" height="28.76" fill="#a0a0a0" stroke="#000" stroke-width="1.3"/>
<line x1="397.7" y1="656.5" x2="397.7" y2="658.8" stroke="#000" stroke-width="1.2"/>
<line x1="395.9" y1="656.5" x2="399.5" y2="656.5" stroke="#000" stroke-width="1.3"/>
<line x1="395.9" y1="658.8" x2="399.5" y2="658.8" stroke="#000" stroke-width="1.3"/>
<text class="t" x="306.8" y="689.8" font-size="13" text-anchor="end">0</text>
<text class="t" x="306.8" y="660.6" font-size="13" text-anchor="end">0.5</text>
<text class="t" x="306.8" y="635.8" font-size="13" text-anchor="end">1.0</text>
<text class="t" x="306.8" y="608.1" font-size="13" text-anchor="end">1.5</text>
<text class="t" x="306.8" y="580.6" font-size="13" text-anchor="end">2.0</text>
<text class="t" x="306.8" y="550.9" font-size="13" text-anchor="end">2.5</text>
<line x1="414.4" y1="686.5" x2="515.6" y2="686.5" stroke="#a3a3a3" stroke-width="1.1"/>
<line x1="414.4" y1="658.85" x2="515.6" y2="658.85" stroke="#a3a3a3" stroke-width="1.1"/>
<line x1="414.4" y1="631.2" x2="515.6" y2="631.2" stroke="#a3a3a3" stroke-width="1.1"/>
<line x1="414.4" y1="603.55" x2="515.6" y2="603.55" stroke="#a3a3a3" stroke-width="1.1"/>
<line x1="414.4" y1="575.9" x2="515.6" y2="575.9" stroke="#a3a3a3" stroke-width="1.1"/>
<line x1="414.4" y1="548.25" x2="515.6" y2="548.25" stroke="#a3a3a3" stroke-width="1.1"/>
<line x1="418.7" y1="548.25" x2="418.7" y2="686.5" stroke="#a3a3a3" stroke-width="1.1"/>
<rect x="422.5" y="579" width="8.4" height="107.5" fill="#353535" stroke="#000" stroke-width="1.3"/>
<line x1="426.7" y1="557.7" x2="426.7" y2="601.2" stroke="#000" stroke-width="1.2"/>
<line x1="424.9" y1="557.7" x2="428.5" y2="557.7" stroke="#000" stroke-width="1.3"/>
<line x1="424.9" y1="601.2" x2="428.5" y2="601.2" stroke="#000" stroke-width="1.3"/>
<rect x="438.8" y="597.69" width="8.4" height="88.81" fill="#353535" stroke="#000" stroke-width="1.3"/>
<line x1="443" y1="587" x2="443" y2="608.8" stroke="#000" stroke-width="1.2"/>
<line x1="441.2" y1="587" x2="444.8" y2="587" stroke="#000" stroke-width="1.3"/>
<line x1="441.2" y1="608.8" x2="444.8" y2="608.8" stroke="#000" stroke-width="1.3"/>
<rect x="455.1" y="583.97" width="8.4" height="102.53" fill="#353535" stroke="#000" stroke-width="1.3"/>
<line x1="459.3" y1="566.2" x2="459.3" y2="602.3" stroke="#000" stroke-width="1.2"/>
<line x1="457.5" y1="566.2" x2="461.1" y2="566.2" stroke="#000" stroke-width="1.3"/>
<line x1="457.5" y1="602.3" x2="461.1" y2="602.3" stroke="#000" stroke-width="1.3"/>
<rect x="471.1" y="631.48" width="8.4" height="55.02" fill="#a0a0a0" stroke="#000" stroke-width="1.3"/>
<line x1="475.3" y1="629.6" x2="475.3" y2="634.4" stroke="#000" stroke-width="1.2"/>
<line x1="473.5" y1="629.6" x2="477.1" y2="629.6" stroke="#000" stroke-width="1.3"/>
<line x1="473.5" y1="634.4" x2="477.1" y2="634.4" stroke="#000" stroke-width="1.3"/>
<rect x="487.3" y="657.91" width="8.4" height="28.59" fill="#a0a0a0" stroke="#000" stroke-width="1.3"/>
<rect x="503.6" y="620.42" width="8.4" height="66.08" fill="#a0a0a0" stroke="#000" stroke-width="1.3"/>
<line x1="507.8" y1="617.5" x2="507.8" y2="624.4" stroke="#000" stroke-width="1.2"/>
<line x1="506" y1="617.5" x2="509.6" y2="617.5" stroke="#000" stroke-width="1.3"/>
<line x1="506" y1="624.4" x2="509.6" y2="624.4" stroke="#000" stroke-width="1.3"/>
<text class="t" transform="translate(283 686.8) rotate(-90)" x="0" y="0" font-size="15.4" text-anchor="start" textLength="125.5" lengthAdjust="spacingAndGlyphs">Relative expression</text>
<text class="t" x="306.25" y="702" font-size="14.2" text-anchor="start">#1</text>
<text class="t" x="323.75" y="702" font-size="14.2" text-anchor="start">#2</text>
<text class="t" x="342" y="702" font-size="14.2" text-anchor="start">#3</text>
<text class="t" x="360.5" y="702" font-size="14.2" text-anchor="start">#1</text>
<text class="t" x="376.5" y="702" font-size="14.2" text-anchor="start">#2</text>
<text class="t" x="393" y="702" font-size="14.2" text-anchor="start">#3</text>
<text class="t" x="417" y="702" font-size="14.2" text-anchor="start">#1</text>
<text class="t" x="435" y="702" font-size="14.2" text-anchor="start">#2</text>
<text class="t" x="451.25" y="702" font-size="14.2" text-anchor="start">#3</text>
<text class="t" x="468.75" y="702" font-size="14.2" text-anchor="start">#1</text>
<text class="t" x="486.25" y="702" font-size="14.2" text-anchor="start">#2</text>
<text class="t" x="504.5" y="702" font-size="14.2" text-anchor="start">#3</text>
<rect x="306.25" y="707.8" width="48.25" height="2.8" fill="#000"/>
<rect x="361.25" y="707.8" width="48.25" height="2.8" fill="#000"/>
<rect x="419.5" y="707.8" width="47.5" height="2.8" fill="#000"/>
<rect x="474.5" y="707.8" width="41.75" height="2.8" fill="#000"/>
<text class="t" x="330.9" y="728" font-size="14.1" text-anchor="middle">siRNA</text>
<text class="t" x="330.9" y="743.75" font-size="14.1" text-anchor="middle">A20</text>
<text class="t" x="385.3" y="728" font-size="14.1" text-anchor="middle">siRNA</text>
<text class="t" x="385.3" y="743.75" font-size="14.1" text-anchor="middle">Luc.</text>
<text class="t" x="444.8" y="728" font-size="14.1" text-anchor="middle">siRNA</text>
<text class="t" x="444.8" y="743.75" font-size="14.1" text-anchor="middle">A20</text>
<text class="t" x="494.6" y="728" font-size="14.1" text-anchor="middle">siRNA</text>
<text class="t" x="494.6" y="743.75" font-size="14.1" text-anchor="middle">Luc.</text>
<text class="t" x="359.5" y="782" font-size="18.9" text-anchor="middle">BCL-xL</text>
<text class="t" x="468.5" y="781.2" font-size="18.9" text-anchor="middle">c-FLIP</text>
<line x1="301.7" y1="936.9" x2="403.5" y2="936.9" stroke="#a3a3a3" stroke-width="1.1"/>
<line x1="301.7" y1="900.1" x2="403.5" y2="900.1" stroke="#a3a3a3" stroke-width="1.1"/>
<line x1="301.7" y1="863.3" x2="403.5" y2="863.3" stroke="#a3a3a3" stroke-width="1.1"/>
<line x1="301.7" y1="826.5" x2="403.5" y2="826.5" stroke="#a3a3a3" stroke-width="1.1"/>
<line x1="301.7" y1="789.7" x2="403.5" y2="789.7" stroke="#a3a3a3" stroke-width="1.1"/>
<line x1="306.5" y1="789.7" x2="306.5" y2="936.9" stroke="#a3a3a3" stroke-width="1.1"/>
<rect x="310.7" y="832.76" width="8.4" height="104.14" fill="#353535" stroke="#000" stroke-width="1.3"/>
<line x1="314.9" y1="815.8" x2="314.9" y2="849.4" stroke="#000" stroke-width="1.2"/>
<line x1="313.1" y1="815.8" x2="316.7" y2="815.8" stroke="#000" stroke-width="1.3"/>
<line x1="313.1" y1="849.4" x2="316.7" y2="849.4" stroke="#000" stroke-width="1.3"/>
<rect x="326.8" y="863.67" width="8.4" height="73.23" fill="#353535" stroke="#000" stroke-width="1.3"/>
<line x1="331" y1="861.3" x2="331" y2="865.8" stroke="#000" stroke-width="1.2"/>
<line x1="329.2" y1="861.3" x2="332.8" y2="861.3" stroke="#000" stroke-width="1.3"/>
<line x1="329.2" y1="865.8" x2="332.8" y2="865.8" stroke="#000" stroke-width="1.3"/>
<rect x="342.9" y="851.52" width="8.4" height="85.38" fill="#353535" stroke="#000" stroke-width="1.3"/>
<line x1="347.1" y1="847" x2="347.1" y2="856.7" stroke="#000" stroke-width="1.2"/>
<line x1="345.3" y1="847" x2="348.9" y2="847" stroke="#000" stroke-width="1.3"/>
<line x1="345.3" y1="856.7" x2="348.9" y2="856.7" stroke="#000" stroke-width="1.3"/>
<rect x="359.3" y="900.47" width="8.4" height="36.43" fill="#a0a0a0" stroke="#000" stroke-width="1.3"/>
<rect x="375.3" y="891.27" width="8.4" height="45.63" fill="#a0a0a0" stroke="#000" stroke-width="1.3"/>
<line x1="379.5" y1="887.9" x2="379.5" y2="894.6" stroke="#000" stroke-width="1.2"/>
<line x1="377.7" y1="887.9" x2="381.3" y2="887.9" stroke="#000" stroke-width="1.3"/>
<line x1="377.7" y1="894.6" x2="381.3" y2="894.6" stroke="#000" stroke-width="1.3"/>
<rect x="391.8" y="903.78" width="8.4" height="33.12" fill="#a0a0a0" stroke="#000" stroke-width="1.3"/>
<line x1="396" y1="900.4" x2="396" y2="908.5" stroke="#000" stroke-width="1.2"/>
<line x1="394.2" y1="900.4" x2="397.8" y2="900.4" stroke="#000" stroke-width="1.3"/>
<line x1="394.2" y1="908.5" x2="397.8" y2="908.5" stroke="#000" stroke-width="1.3"/>
<text class="t" x="300.3" y="940" font-size="12.8" text-anchor="end">0</text>
<text class="t" x="300.3" y="903.5" font-size="12.8" text-anchor="end">1</text>
<text class="t" x="300.3" y="867" font-size="12.8" text-anchor="end">2</text>
<text class="t" x="300.3" y="829.8" font-size="12.8" text-anchor="end">3</text>
<text class="t" x="300.3" y="792.4" font-size="12.8" text-anchor="end">4</text>
<line x1="412" y1="936.9" x2="518" y2="936.9" stroke="#a3a3a3" stroke-width="1.1"/>
<line x1="412" y1="900.1" x2="518" y2="900.1" stroke="#a3a3a3" stroke-width="1.1"/>
<line x1="412" y1="863.3" x2="518" y2="863.3" stroke="#a3a3a3" stroke-width="1.1"/>
<line x1="412" y1="826.5" x2="518" y2="826.5" stroke="#a3a3a3" stroke-width="1.1"/>
<line x1="412" y1="789.7" x2="518" y2="789.7" stroke="#a3a3a3" stroke-width="1.1"/>
<line x1="416.3" y1="789.7" x2="416.3" y2="936.9" stroke="#a3a3a3" stroke-width="1.1"/>
<rect x="420.5" y="826.87" width="8.4" height="110.03" fill="#353535" stroke="#000" stroke-width="1.3"/>
<line x1="424.7" y1="819.6" x2="424.7" y2="834.6" stroke="#000" stroke-width="1.2"/>
<line x1="422.9" y1="819.6" x2="426.5" y2="819.6" stroke="#000" stroke-width="1.3"/>
<line x1="422.9" y1="834.6" x2="426.5" y2="834.6" stroke="#000" stroke-width="1.3"/>
<rect x="437.4" y="843.43" width="8.4" height="93.47" fill="#353535" stroke="#000" stroke-width="1.3"/>
<line x1="441.6" y1="830.8" x2="441.6" y2="856.2" stroke="#000" stroke-width="1.2"/>
<line x1="439.8" y1="830.8" x2="443.4" y2="830.8" stroke="#000" stroke-width="1.3"/>
<line x1="439.8" y1="856.2" x2="443.4" y2="856.2" stroke="#000" stroke-width="1.3"/>
<rect x="454.4" y="838.64" width="8.4" height="98.26" fill="#353535" stroke="#000" stroke-width="1.3"/>
<line x1="458.6" y1="831.5" x2="458.6" y2="845.6" stroke="#000" stroke-width="1.2"/>
<line x1="456.8" y1="831.5" x2="460.4" y2="831.5" stroke="#000" stroke-width="1.3"/>
<line x1="456.8" y1="845.6" x2="460.4" y2="845.6" stroke="#000" stroke-width="1.3"/>
<rect x="471.3" y="900.47" width="8.4" height="36.43" fill="#a0a0a0" stroke="#000" stroke-width="1.3"/>
<line x1="475.5" y1="898" x2="475.5" y2="902.7" stroke="#000" stroke-width="1.2"/>
<line x1="473.7" y1="898" x2="477.3" y2="898" stroke="#000" stroke-width="1.3"/>
<line x1="473.7" y1="902.7" x2="477.3" y2="902.7" stroke="#000" stroke-width="1.3"/>
<rect x="488.6" y="897.16" width="8.4" height="39.74" fill="#a0a0a0" stroke="#000" stroke-width="1.3"/>
<line x1="492.8" y1="894.6" x2="492.8" y2="899.4" stroke="#000" stroke-width="1.2"/>
<line x1="491" y1="894.6" x2="494.6" y2="894.6" stroke="#000" stroke-width="1.3"/>
<line x1="491" y1="899.4" x2="494.6" y2="899.4" stroke="#000" stroke-width="1.3"/>
<rect x="505.9" y="892.37" width="8.4" height="44.53" fill="#a0a0a0" stroke="#000" stroke-width="1.3"/>
<line x1="510.1" y1="890.4" x2="510.1" y2="895" stroke="#000" stroke-width="1.2"/>
<line x1="508.3" y1="890.4" x2="511.9" y2="890.4" stroke="#000" stroke-width="1.3"/>
<line x1="508.3" y1="895" x2="511.9" y2="895" stroke="#000" stroke-width="1.3"/>
<text class="t" transform="translate(283 914.4) rotate(-90)" x="0" y="0" font-size="15.4" text-anchor="start" textLength="124.8" lengthAdjust="spacingAndGlyphs">Relative expression</text>
<text class="t" x="302" y="949.5" font-size="14.2" text-anchor="start">#1</text>
<text class="t" x="318.75" y="949.5" font-size="14.2" text-anchor="start">#2</text>
<text class="t" x="338" y="949.5" font-size="14.2" text-anchor="start">#3</text>
<text class="t" x="356.25" y="949.5" font-size="14.2" text-anchor="start">#1</text>
<text class="t" x="373.75" y="949.5" font-size="14.2" text-anchor="start">#2</text>
<text class="t" x="393" y="949.5" font-size="14.2" text-anchor="start">#3</text>
<text class="t" x="416.25" y="949.5" font-size="14.2" text-anchor="start">#1</text>
<text class="t" x="434.5" y="949.5" font-size="14.2" text-anchor="start">#2</text>
<text class="t" x="451.25" y="949.5" font-size="14.2" text-anchor="start">#3</text>
<text class="t" x="468.75" y="949.5" font-size="14.2" text-anchor="start">#1</text>
<text class="t" x="486.25" y="949.5" font-size="14.2" text-anchor="start">#2</text>
<text class="t" x="503.75" y="949.5" font-size="14.2" text-anchor="start">#3</text>
<rect x="302" y="956.2" width="48.5" height="2.6" fill="#000"/>
<rect x="357" y="956.2" width="47.5" height="2.6" fill="#000"/>
<rect x="415" y="956.2" width="48" height="2.6" fill="#000"/>
<rect x="470.5" y="956.2" width="42.5" height="2.6" fill="#000"/>
<text class="t" x="326.2" y="975" font-size="14.1" text-anchor="middle">siRNA</text>
<text class="t" x="326.2" y="991.25" font-size="14.1" text-anchor="middle">A20</text>
<text class="t" x="380.5" y="975" font-size="14.1" text-anchor="middle">siRNA</text>
<text class="t" x="380.5" y="991.25" font-size="14.1" text-anchor="middle">Luc.</text>
<text class="t" x="441.2" y="975" font-size="14.1" text-anchor="middle">siRNA</text>
<text class="t" x="441.2" y="991.25" font-size="14.1" text-anchor="middle">A20</text>
<text class="t" x="490.4" y="975" font-size="14.1" text-anchor="middle">siRNA</text>
<text class="t" x="490.4" y="991.25" font-size="14.1" text-anchor="middle">Luc.</text>
</svg>
</body></html>
